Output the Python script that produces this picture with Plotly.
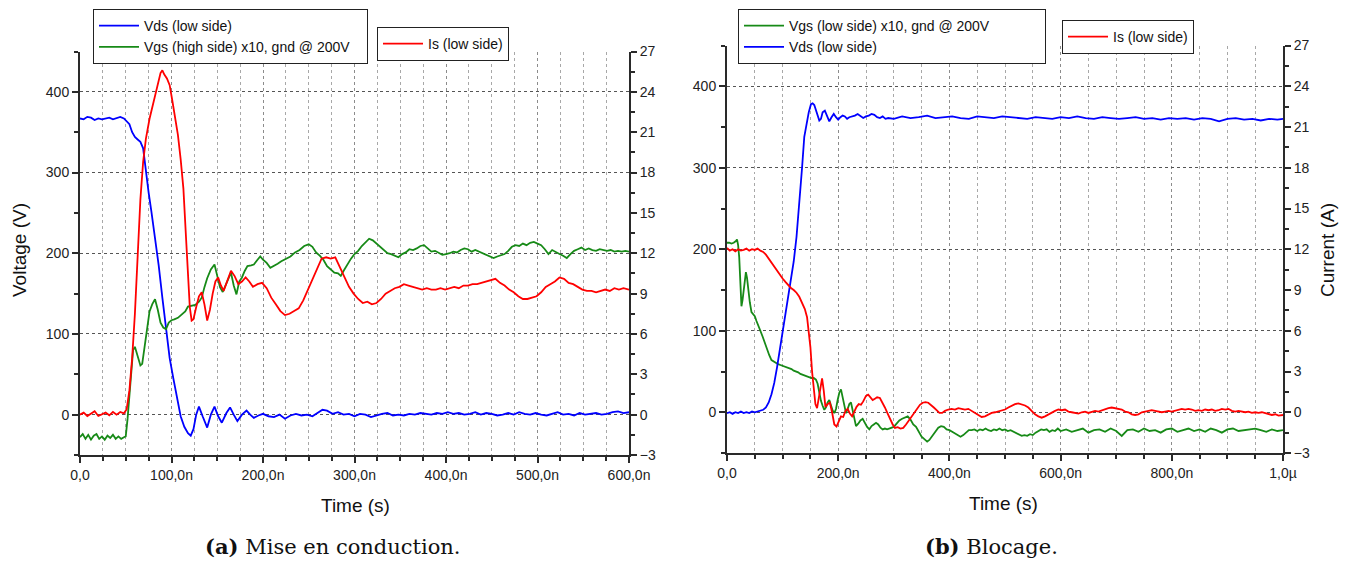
import plotly.graph_objects as go

# ---------------- (a) Mise en conduction : time in ns ----------------
A_VDS_T = [0, 4, 8, 12, 16, 20, 24, 28, 32, 36, 40, 44, 48, 51, 54, 57, 60, 63, 66, 69,
           72, 75, 78, 82, 86, 90, 94, 98, 102, 106, 110, 114, 118, 121, 124, 127, 130, 134,
           139, 143, 147, 151, 155, 160, 164, 168, 172, 177, 182, 186, 190, 195, 200, 206,
           212, 218, 224, 230, 236, 242, 248, 254, 260, 265, 270, 276, 282, 288, 294, 300,
           306, 312, 318, 324, 330, 336, 342, 348, 354, 360, 366, 372, 378, 384, 390, 396,
           402, 408, 414, 420, 426, 432, 438, 444, 450, 456, 462, 468, 474, 480, 486, 492,
           498, 504, 510, 516, 522, 528, 534, 540, 546, 552, 558, 564, 570, 576, 582, 588,
           594, 600]
A_VDS = [367, 366, 369, 368, 365, 367, 366, 367, 368, 366, 368, 369, 367, 364, 360, 350, 344,
         341, 338, 330, 300, 275, 252, 220, 185, 145, 105, 70, 45, 22, -2, -15, -23, -26, -18,
         0, 10, -2, -16, 0, 10, -2, -10, 2, 9, 0, -8, 0, 5, 0, -4, -1, 1, -2, -3, 0, -5, -1,
         1, -1, 0, -2, 2, 6, 5, 1, 3, 0, 1, -2, 1, 0, -3, -1, 1, 2, -1, 0, -1, 1, 0, 2, 1, 0,
         2, 1, 3, 1, 2, 0, 1, 3, 0, 2, 1, -1, 0, 2, 0, 3, 1, 0, 2, 0, -1, 1, 3, 0, 1, -1, 2,
         0, 1, 2, 0, 1, 3, 4, 2, 3]

A_VGS_T = [0, 3, 6, 9, 12, 15, 18, 21, 24, 27, 30, 33, 36, 39, 42, 45, 48, 50, 52, 55, 58,
           60, 62, 64, 66, 68, 70, 73, 76, 79, 82, 85, 88, 91, 94, 97, 100, 103, 107, 111,
           115, 118, 122, 126, 130, 133, 136, 139, 143, 147, 150, 153, 156, 159, 162, 165,
           168, 171, 174, 177, 180, 183, 187, 190, 194, 197, 200, 204, 208, 212, 216, 220,
           225, 230, 235, 240, 245, 250, 254, 258, 262, 266, 270, 274, 278, 282, 285, 288,
           292, 296, 300, 304, 308, 312, 316, 320, 324, 328, 332, 336, 340, 344, 348, 352,
           356, 360, 364, 368, 372, 376, 380, 384, 388, 392, 396, 400, 404, 408, 412, 416,
           420, 424, 428, 432, 436, 440, 444, 448, 452, 456, 460, 464, 468, 472, 476, 480,
           484, 488, 492, 496, 500, 504, 508, 512, 516, 520, 524, 528, 532, 536, 540, 544,
           548, 552, 556, 560, 564, 568, 572, 576, 580, 584, 588, 592, 596, 600]
A_VGS = [-28, -24, -30, -25, -31, -26, -24, -30, -27, -31, -26, -29, -25, -30, -27, -30, -28,
         -27, -5, 40, 80, 84, 76, 66, 61, 63, 80, 104, 128, 137, 143, 130, 114, 108, 106,
         114, 117, 118, 120, 124, 128, 134, 135, 136, 140, 145, 158, 169, 180, 186, 172, 158,
         152, 160, 168, 176, 160, 149, 165, 170, 178, 184, 185, 186, 192, 196, 192, 188, 182,
         184, 187, 190, 193, 196, 201, 204, 209, 211, 208, 201, 197, 192, 184, 180, 176, 175,
         172, 178, 186, 193, 199, 203, 209, 214, 218, 216, 212, 209, 204, 200, 199, 197, 195,
         199, 201, 205, 204, 206, 209, 210, 206, 202, 203, 200, 198, 199, 200, 202, 201, 204,
         206, 205, 202, 204, 202, 200, 199, 196, 194, 196, 198, 199, 203, 208, 210, 209, 212,
         210, 213, 214, 212, 210, 205, 199, 204, 201, 199, 197, 194, 199, 203, 205, 207, 204,
         206, 204, 203, 205, 204, 203, 204, 202, 203, 202, 203, 202]

A_IS_T = [0, 4, 8, 12, 16, 20, 24, 28, 32, 36, 40, 44, 48, 51, 54, 57, 60, 63, 66, 69, 72,
          76, 80, 84, 88, 90, 92, 95, 98, 101, 104, 107, 110, 113, 116, 118, 120, 122, 124,
          127, 130, 133, 136, 139, 142, 145, 148, 151, 154, 157, 161, 165, 169, 173, 177,
          181, 185, 189, 194, 199, 204, 209, 214, 219, 224, 229, 234, 239, 244, 249, 254,
          259, 264, 269, 274, 279, 284, 289, 294, 299, 304, 309, 314, 319, 324, 329, 334,
          339, 344, 349, 354, 359, 364, 369, 374, 379, 384, 389, 394, 399, 404, 409, 414,
          419, 424, 429, 434, 439, 444, 449, 454, 459, 464, 469, 474, 479, 484, 489, 494,
          499, 504, 509, 514, 519, 524, 529, 534, 539, 544, 549, 554, 559, 564, 569, 574,
          579, 584, 589, 594, 600]
A_IS = [0.0, 0.15, -0.1, 0.05, 0.25, -0.1, 0.0, 0.15, -0.05, 0.2, 0.0, 0.2, 0.1, 0.4, 1.8,
        4.2, 7.5, 11.8, 16.0, 18.8, 20.5, 22.0, 23.2, 24.3, 25.4, 25.6, 25.3, 25.0, 24.5,
        23.3, 22.2, 20.8, 19.0, 16.8, 13.0, 10.5, 8.0, 7.0, 7.1, 8.0, 8.8, 9.1, 8.2, 7.0,
        7.8, 9.0, 9.9, 10.2, 9.6, 9.2, 10.0, 10.7, 10.3, 9.7, 9.9, 10.2, 9.9, 9.5, 9.7, 9.8,
        9.4, 8.7, 8.2, 7.7, 7.4, 7.5, 7.7, 7.9, 8.5, 9.3, 10.0, 10.8, 11.6, 11.7, 11.6, 11.7,
        11.0, 10.2, 9.5, 9.0, 8.6, 8.3, 8.4, 8.2, 8.3, 8.6, 9.0, 9.2, 9.4, 9.5, 9.7, 9.6,
        9.5, 9.4, 9.3, 9.4, 9.3, 9.3, 9.4, 9.3, 9.4, 9.5, 9.4, 9.6, 9.6, 9.7, 9.7, 9.8, 9.9,
        10.0, 10.1, 9.8, 9.6, 9.3, 9.1, 8.8, 8.6, 8.6, 8.7, 8.8, 9.1, 9.5, 9.7, 9.9, 10.2,
        10.1, 9.8, 9.7, 9.5, 9.3, 9.2, 9.2, 9.1, 9.2, 9.3, 9.2, 9.4, 9.3, 9.4, 9.3]

# ---------------- (b) Blocage : time in ns ----------------
B_VDS_T = [0, 5, 10, 15, 20, 25, 30, 35, 40, 45, 50, 55, 60, 65, 70, 75, 80, 85, 90, 95,
           100, 105, 110, 115, 120, 125, 130, 135, 139, 143, 147, 151, 154, 157, 160, 163,
           166, 169, 172, 176, 180, 184, 188, 192, 196, 200, 204, 208, 212, 216, 220, 225,
           230, 235, 240, 245, 250, 255, 260, 265, 270, 275, 280, 285, 290, 300, 315, 330,
           345, 360, 375, 390, 405, 420, 435, 450, 465, 480, 495, 510, 525, 540, 555, 570,
           585, 600, 615, 630, 645, 660, 675, 690, 705, 720, 735, 750, 765, 780, 795, 810,
           825, 840, 855, 870, 885, 900, 915, 930, 945, 960, 975, 990, 1000]
B_VDS = [-1, 0, -2, 0, -1, 1, -1, 0, -1, 1, 0, 1, 2, 3, 6, 12, 22, 36, 55, 77, 97, 117, 138,
         160, 185, 215, 255, 300, 338, 355, 368, 378, 379, 377, 370, 362, 358, 360, 368, 370,
         363, 357, 362, 366, 362, 359, 362, 364, 363, 360, 362, 363, 364, 366, 363, 361, 363,
         364, 366, 365, 362, 361, 363, 360, 361, 360, 363, 361, 362, 364, 361, 362, 363, 361,
         360, 363, 362, 361, 363, 362, 361, 360, 362, 361, 360, 362, 361, 363, 361, 360, 362,
         361, 360, 361, 362, 360, 361, 359, 361, 360, 361, 359, 361, 360, 357, 360, 361, 359,
         360, 358, 360, 359, 360]

B_VGS_T = [0, 4, 8, 12, 16, 18, 20, 22, 24, 26, 28, 30, 32, 34, 36, 38, 41, 44, 47, 50, 53,
           56, 60, 64, 68, 72, 76, 80, 84, 88, 92, 96, 100, 104, 108, 112, 116, 120, 124, 128,
           132, 136, 140, 144, 148, 152, 156, 160, 163, 166, 169, 172, 175, 178, 181, 184, 187,
           190, 193, 196, 199, 202, 205, 208, 211, 214, 217, 220, 223, 226, 229, 232, 236,
           240, 244, 248, 252, 256, 260, 264, 268, 272, 276, 280, 284, 288, 292, 296, 300,
           305, 310, 315, 320, 325, 330, 335, 340, 345, 350, 355, 360, 364, 368, 372, 376,
           380, 385, 390, 395, 400, 405, 410, 415, 420, 425, 430, 435, 440, 445, 450, 455,
           460, 465, 470, 475, 480, 485, 490, 495, 500, 505, 510, 515, 520, 525, 530, 535,
           540, 545, 550, 555, 560, 565, 570, 575, 580, 585, 590, 595, 600, 610, 620, 630,
           640, 650, 660, 670, 680, 690, 700, 710, 720, 730, 740, 750, 760, 770, 780, 790,
           800, 810, 820, 830, 840, 850, 860, 870, 880, 890, 900, 910, 920, 930, 940, 950,
           960, 970, 980, 990, 1000]
B_VGS = [208, 208, 207, 208, 210, 212, 205, 190, 160, 130, 138, 150, 165, 172, 165, 150, 135,
         123, 120, 118, 112, 106, 100, 93, 85, 78, 70, 64, 62, 60, 59, 58, 57, 56, 55, 54, 53,
         51, 50, 49, 47, 46, 45, 44, 43, 42, 42, 40, 35, 24, 14, 8, 3, 6, 12, 15, 8, 2, -1, 4,
         15, 24, 28, 18, 6, -1, 4, 10, 12, 2, -10, -17, -14, -10, -8, -14, -18, -21, -17, -15,
         -13, -15, -19, -21, -20, -21, -20, -19, -18, -14, -10, -8, -6, -5, -9, -15, -18, -24,
         -30, -33, -36, -34, -30, -26, -22, -19, -17, -18, -21, -22, -24, -26, -28, -30, -28,
         -25, -22, -22, -21, -23, -21, -22, -20, -22, -23, -21, -22, -20, -22, -21, -23, -22,
         -24, -25, -28, -29, -28, -29, -27, -28, -25, -23, -21, -22, -21, -24, -22, -23, -20,
         -23, -21, -24, -22, -20, -25, -22, -21, -24, -20, -23, -29, -22, -21, -24, -20, -23,
         -22, -25, -21, -20, -24, -22, -20, -23, -21, -24, -20, -22, -25, -21, -20, -23, -22,
         -21, -20, -22, -24, -21, -23, -22]

B_IS_T = [0, 5, 10, 15, 20, 25, 30, 35, 40, 45, 50, 55, 60, 65, 70, 75, 80, 85, 90, 95, 100,
          105, 110, 115, 120, 125, 130, 135, 140, 144, 147, 150, 153, 156, 159, 162, 165,
          168, 171, 174, 177, 181, 185, 189, 193, 197, 201, 205, 209, 213, 217, 221, 225,
          229, 233, 237, 241, 245, 250, 254, 258, 262, 266, 270, 275, 280, 284, 289, 293,
          298, 302, 307, 312, 317, 322, 327, 332, 337, 342, 347, 352, 357, 362, 367, 372,
          377, 382, 387, 392, 398, 404, 410, 416, 422, 428, 434, 440, 446, 452, 458, 464,
          470, 476, 482, 488, 494, 500, 506, 512, 518, 524, 530, 536, 542, 548, 554, 560,
          566, 572, 578, 584, 590, 596, 602, 608, 614, 620, 626, 632, 638, 644, 650, 656,
          662, 668, 674, 680, 686, 692, 698, 704, 710, 716, 722, 728, 734, 740, 746, 752,
          758, 764, 770, 776, 782, 788, 794, 800, 806, 812, 818, 824, 830, 836, 842, 848,
          854, 860, 866, 872, 878, 884, 890, 896, 902, 908, 914, 920, 926, 932, 938, 944,
          950, 956, 962, 968, 974, 980, 986, 992, 1000]
B_IS = [12.1, 11.9, 12.0, 11.85, 12.0, 11.9, 11.95, 12.05, 11.9, 12.0, 11.95, 12.05, 11.9,
        11.8, 11.6, 11.3, 11.0, 10.7, 10.4, 10.1, 9.85, 9.6, 9.35, 9.15, 9.0, 8.8, 8.5, 8.1,
        7.6, 7.0, 6.0, 4.8, 3.0, 1.6, 0.6, 0.3, 1.0, 2.0, 2.5, 1.6, 0.4, 0.6, 0.7, 0.0, -0.9,
        -1.05, -0.6, -0.3, -0.35, 0.1, 0.25, -0.1, -0.3, 0.1, 0.4, 0.6, 0.55, 0.8, 1.2, 1.3,
        1.1, 0.9, 1.0, 1.1, 1.05, 0.7, 0.35, -0.1, -0.5, -0.9, -1.15, -1.1, -1.2, -1.15, -0.9,
        -0.6, -0.3, 0.0, 0.3, 0.55, 0.7, 0.75, 0.7, 0.55, 0.35, 0.15, -0.05, -0.05, 0.1, 0.2,
        0.25, 0.2, 0.3, 0.25, 0.2, 0.25, 0.1, -0.1, -0.25, -0.35, -0.3, -0.15, -0.05, 0.0,
        0.05, 0.1, 0.2, 0.35, 0.5, 0.6, 0.65, 0.6, 0.5, 0.35, 0.1, -0.15, -0.3, -0.4, -0.3,
        -0.15, 0.0, 0.1, 0.2, 0.15, 0.2, 0.05, 0.0, -0.05, -0.1, 0.0, 0.05, -0.05, 0.05, 0.1,
        0.05, 0.15, 0.2, 0.3, 0.35, 0.3, 0.3, 0.2, 0.05, 0.0, -0.15, -0.2, -0.15, 0.0, 0.05,
        0.1, 0.15, 0.1, 0.05, 0.0, 0.05, 0.1, 0.05, 0.1, 0.2, 0.25, 0.2, 0.25, 0.2, 0.1, 0.15,
        0.1, 0.2, 0.15, 0.2, 0.1, 0.15, 0.25, 0.2, 0.25, 0.1, 0.05, 0.1, 0.05, 0.0, 0.05,
        -0.05, 0.0, -0.05, 0.0, -0.05, -0.1, -0.2, -0.15, -0.25, -0.2]

A_XTICKS = [0, 100, 200, 300, 400, 500, 600]
A_XLABELS = ["0,0", "100,0n", "200,0n", "300,0n", "400,0n", "500,0n", "600,0n"]
B_XTICKS = [0, 200, 400, 600, 800, 1000]
B_XLABELS = ["0,0", "200,0n", "400,0n", "600,0n", "800,0n", "1,0µ"]

BLUE = "#0000FF"
GREEN = "#178A17"
RED = "#FF0000"
AXIS = "#2a2a2a"
GRID = "#8c8c8c"
FONT = "Arial, Liberation Sans, sans-serif"
NBSP = "\u00a0"

# the page body keeps its default 8px margin, so the figure is shifted by it
OFF = 8
W, H = 1348 - OFF, 562 - OFF


def px(x):
    return (x - OFF) / W


def py(y):
    return 1 - (y - OFF) / H


def x_axis(domain, anchor, rng, tickvals, ticktext, minor_step):
    return dict(
        domain=domain, anchor=anchor, range=rng, automargin=False,
        tickmode="array", tickvals=tickvals, ticktext=ticktext,
        ticks="outside", ticklen=6, tickwidth=1.5, tickcolor=AXIS,
        showline=True, linecolor=AXIS, linewidth=2,
        showgrid=True, gridcolor=GRID, griddash="dot", gridwidth=1,
        zeroline=False,
        minor=dict(tick0=0, dtick=minor_step, ticks="outside", ticklen=4,
                   tickcolor=AXIS, showgrid=True, gridcolor="#a8a8a8",
                   griddash="dot", gridwidth=1),
        tickfont=dict(size=14, color="#222"),
        fixedrange=True,
    )


def v_axis(domain, anchor):
    return dict(
        domain=domain, anchor=anchor, range=[-50, 450], automargin=False,
        tickmode="linear", tick0=0, dtick=100,
        ticks="outside", ticklen=6, tickwidth=1.5, tickcolor=AXIS,
        showline=True, linecolor=AXIS, linewidth=2,
        showgrid=True, gridcolor="#555", griddash="dot", gridwidth=1,
        zeroline=False,
        minor=dict(tick0=0, dtick=50, ticks="outside", ticklen=4, tickcolor=AXIS,
                   showgrid=False),
        tickfont=dict(size=14, color="#222"),
        fixedrange=True,
    )


def i_axis(overlay, anchor):
    return dict(
        overlaying=overlay, anchor=anchor, side="right", range=[-3, 27],
        automargin=False,
        tickmode="linear", tick0=0, dtick=3,
        ticks="outside", ticklen=6, tickwidth=1.5, tickcolor=AXIS,
        showline=True, linecolor=AXIS, linewidth=2,
        showgrid=False, zeroline=False,
        minor=dict(tick0=0, dtick=1.5, ticks="outside", ticklen=4, tickcolor=AXIS),
        tickfont=dict(size=14, color="#222"),
        fixedrange=True,
    )


fig = go.Figure()

# panel (a)
fig.add_trace(go.Scatter(x=A_VDS_T, y=A_VDS, mode="lines", name="Vds (low side)",
                         line=dict(color=BLUE, width=1.8), xaxis="x", yaxis="y",
                         legend="legend"))
fig.add_trace(go.Scatter(x=A_VGS_T, y=A_VGS, mode="lines",
                         name="Vgs (high side) x10, gnd @ 200V" + NBSP * 3,
                         line=dict(color=GREEN, width=1.8), xaxis="x", yaxis="y",
                         legend="legend"))
fig.add_trace(go.Scatter(x=A_IS_T, y=A_IS, mode="lines", name="Is (low side)",
                         line=dict(color=RED, width=1.8), xaxis="x", yaxis="y2",
                         legend="legend2"))

# panel (b)
fig.add_trace(go.Scatter(x=B_VGS_T, y=B_VGS, mode="lines",
                         name="Vgs (low side) x10, gnd @ 200V" + NBSP * 13,
                         line=dict(color=GREEN, width=1.8), xaxis="x2", yaxis="y3",
                         legend="legend3"))
fig.add_trace(go.Scatter(x=B_VDS_T, y=B_VDS, mode="lines", name="Vds (low side)",
                         line=dict(color=BLUE, width=1.8), xaxis="x2", yaxis="y3",
                         legend="legend3"))
fig.add_trace(go.Scatter(x=B_IS_T, y=B_IS, mode="lines", name="Is (low side)",
                         line=dict(color=RED, width=1.8), xaxis="x2", yaxis="y4",
                         legend="legend4"))

A_XDOM = [px(80), px(629)]
A_YDOM = [py(455), py(51.5)]
B_XDOM = [px(727), px(1283)]
B_YDOM = [py(453), py(45.5)]

leg_common = dict(bgcolor="white", bordercolor="#222", borderwidth=1,
                  font=dict(family=FONT, size=14, color="#111"),
                  xanchor="left", yanchor="top", itemwidth=40,
                  tracegroupgap=0)

fig.update_layout(
    width=W, height=H,
    margin=dict(l=0, r=0, t=0, b=0, autoexpand=False),
    paper_bgcolor="white", plot_bgcolor="white",
    font=dict(family=FONT, size=14, color="#222"),
    xaxis=x_axis(A_XDOM, "y", [0, 600], A_XTICKS, A_XLABELS, 25),
    yaxis=v_axis(A_YDOM, "x"),
    yaxis2=i_axis("y", "x"),
    xaxis2=x_axis(B_XDOM, "y3", [0, 1000], B_XTICKS, B_XLABELS, 50),
    yaxis3=v_axis(B_YDOM, "x2"),
    yaxis4=i_axis("y3", "x2"),
    legend=dict(x=px(93), y=py(9), **leg_common),
    legend2=dict(x=px(377), y=py(27), **leg_common),
    legend3=dict(x=px(738), y=py(9), **leg_common),
    legend4=dict(x=px(1062), y=py(20), **leg_common),
    showlegend=True,
)

# axis titles and captions
notes = [
    (355, 505, "Time (s)", 19, 0),
    (1003, 503, "Time (s)", 19, 0),
    (19, 250, "Voltage (V)", 19, -90),
    (1327, 250, "Current (A)", 19, -90),
]
for x, y, text, size, angle in notes:
    fig.add_annotation(x=px(x), y=py(y), xref="paper", yref="paper", text=text,
                       xanchor="center", yanchor="middle",
                       showarrow=False, textangle=angle,
                       font=dict(family=FONT, size=size, color="#111"))

SERIF = "DejaVu Serif, Liberation Serif, serif"
captions = [(333, 546, "<b>(a)</b> Mise en conduction."),
            (991, 546, "<b>(b)</b> Blocage.")]
for x, y, text in captions:
    fig.add_annotation(x=px(x), y=py(y), xref="paper", yref="paper", text=text,
                       xanchor="center", yanchor="middle", showarrow=False,
                       font=dict(family=SERIF, size=21, color="#111"))

fig.write_html("out.html")
